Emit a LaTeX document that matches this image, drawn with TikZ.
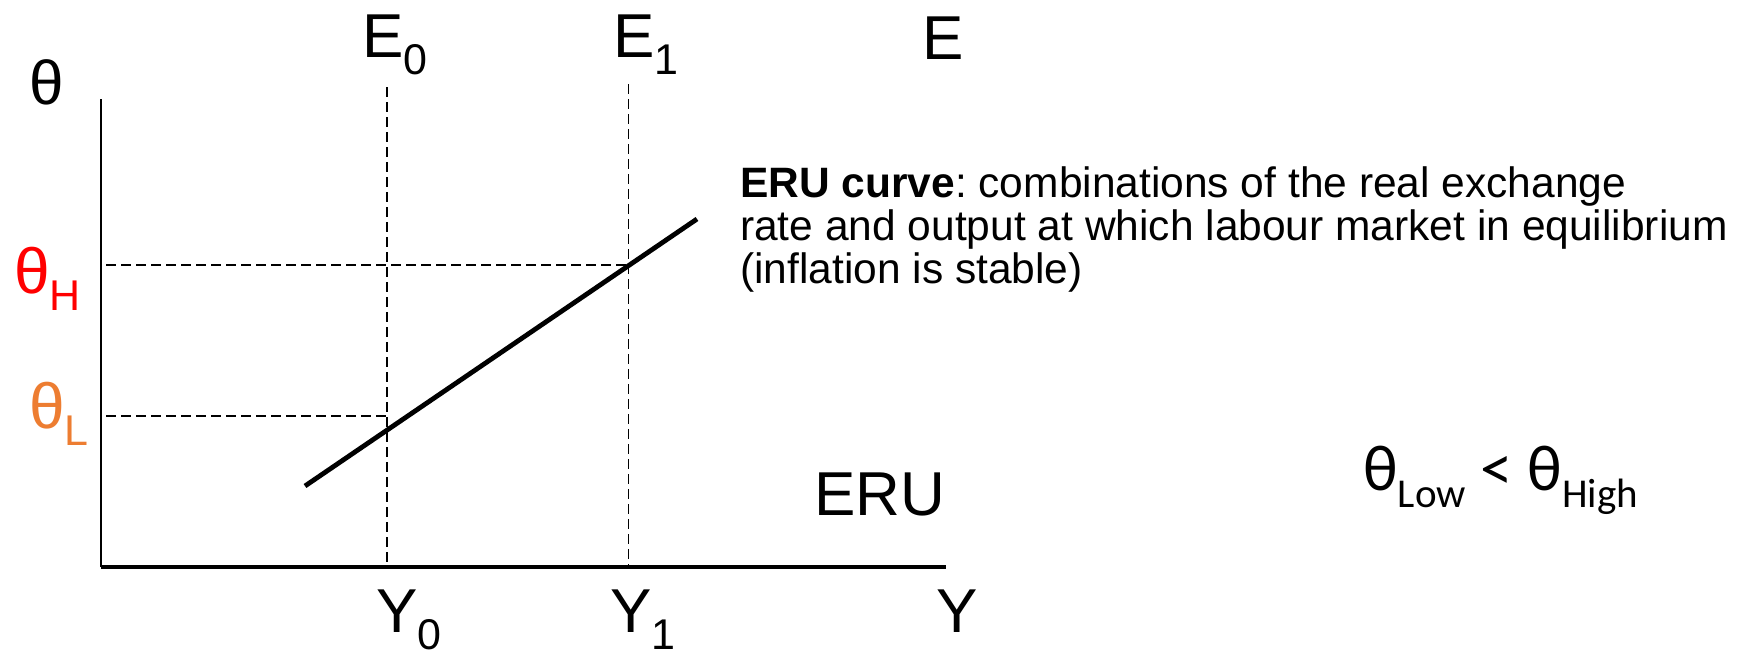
\documentclass[tikz,border=0pt]{standalone}
\usepackage{fontspec}
\setmainfont{Liberation Sans}
\newfontfamily\calib{Carlito}
\definecolor{thH}{RGB}{255,0,0}
\definecolor{thL}{RGB}{237,125,49}
\newcommand{\lsub}[1]{\raisebox{-17pt}{\fontsize{43}{43}\selectfont #1}}
\newcommand{\csub}[1]{\raisebox{-17pt}{\fontsize{41}{41}\selectfont #1}}
\begin{document}
\begin{tikzpicture}[x=1pt,y=-1pt,
  lbl/.style={inner sep=0pt, anchor=base west, font=\fontsize{62}{72}\selectfont},
  axis/.style={draw=black, line width=#1},
  guide/.style={draw=black, line width=1.4pt, dash pattern=on 10pt off 5pt},
  curveline/.style={draw=black, line width=4.8pt}]
\useasboundingbox (0,0) rectangle (1760,656);
% coordinates
\coordinate (O) at (101,567);
\coordinate (ytop) at (101,99);
\coordinate (xend) at (946,567);
\coordinate (e0top) at (387,87);
\coordinate (e0bot) at (387,567);
\coordinate (e1top) at (628.5,84);
\coordinate (e1bot) at (628.5,567);
\coordinate (hL) at (106,265);
\coordinate (hR) at (628.5,265);
\coordinate (lL) at (106,416);
\coordinate (lR) at (387,416);
\coordinate (c0) at (305,486);
\coordinate (c1) at (697,219);
% axes
\draw[axis=1.6pt] (O) -- (ytop);
\draw[axis=3.5pt] (O) -- (xend);
% guides
\draw[guide] (e0top) -- (e0bot);
\draw[guide] (e1top) -- (e1bot);
\draw[guide] (hL) -- (hR);
\draw[guide] (lL) -- (lR);
% ERU curve
\draw[curveline] (c0) -- (c1);
% labels
\node[lbl] (theta) at (29,104) {θ};
\node[lbl] (E0) at (362,57) {E\lsub{0}};
\node[lbl] (E1) at (613,57) {E\lsub{1}};
\node[lbl] (E) at (922,59) {E};
\node[lbl] (Y0) at (376,632) {Y\lsub{0}};
\node[lbl] (Y1) at (610,632) {Y\lsub{1}};
\node[lbl] (Y) at (936,632) {Y};
\node[lbl] (ERU) at (814,515) {ERU};
\node[lbl, text=thH, font=\fontsize{64}{72}\selectfont] (thetaH) at (14,293) {θ\lsub{H}};
\node[lbl, text=thL, font=\fontsize{64}{72}\selectfont] (thetaL) at (29,428) {θ\lsub{L}};
\node[inner sep=0pt, anchor=base west, align=left, font=\frenchspacing\fontsize{42.5}{42.8}\selectfont] (desc) at (740,283)
  {\textbf{ERU curve}: combinations of the real exchange\\
   rate and output at which labour market in equilibrium\\
   (inflation is stable)};
\node[inner sep=0pt, anchor=base west, font=\calib\fontsize{65}{72}\selectfont] (ineq) at (1363,490)
  {θ\csub{Low} < θ\csub{High}};
\end{tikzpicture}
\end{document}
